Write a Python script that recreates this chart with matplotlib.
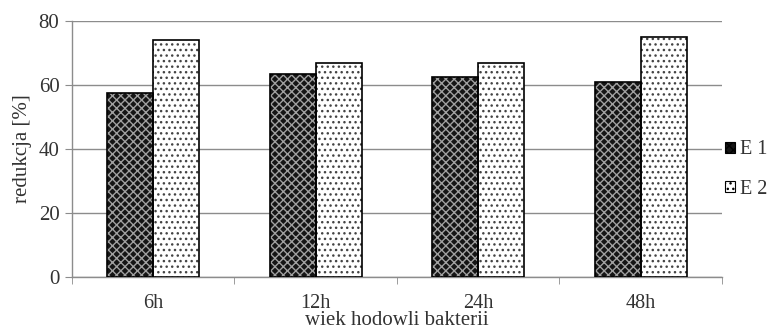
import numpy as np
import matplotlib.pyplot as plt
import matplotlib.patches as mpatches

plt.rcParams['font.family'] = ['Liberation Serif', 'DejaVu Serif']
plt.rcParams['hatch.linewidth'] = 1.0

kategorie = ['6h', '12h', '24h', '48h']
e1 = [57.5, 63.5, 62.5, 61.0]
e2 = [74.0, 67.0, 67.0, 75.0]
serie = ['E 1', 'E 2']

x = np.arange(len(kategorie))
w = 0.283
tekst = '#333333'

fig = plt.figure(figsize=(7.7, 3.31), dpi=100)
ax = fig.add_axes([0.0935, 0.163, 0.844, 0.773])

# E1 - ciemny wzor
ax.bar(x - w/2, e1, w, facecolor='#151515', edgecolor='#a0a0a0', hatch='xxxx', linewidth=0, zorder=3)
ax.bar(x - w/2, e1, w, facecolor='none', edgecolor='black', linewidth=1.2, zorder=4)
# E2 - kropki
ax.bar(x + w/2, e2, w, facecolor='white', edgecolor='#444444', hatch='...', linewidth=0, zorder=3)
ax.bar(x + w/2, e2, w, facecolor='none', edgecolor='black', linewidth=1.2, zorder=4)

ax.set_ylim(0, 80)
ax.set_xlim(-0.5, len(kategorie) - 0.5)
ax.set_yticks([0, 20, 40, 60, 80])
ax.yaxis.grid(True, color='#8c8c8c', linewidth=1.0, zorder=0)
ax.set_axisbelow(True)

ax.set_xticks(x)
ax.set_xticklabels(kategorie)
ax.set_xticks(np.arange(-0.5, len(kategorie)), minor=True)
ax.tick_params(axis='x', which='major', length=0, pad=12, labelsize=14.5, colors=tekst)
ax.tick_params(axis='x', which='minor', length=5, color='#8c8c8c', direction='out')
ax.tick_params(axis='y', length=5, color='#8c8c8c', pad=4, labelsize=15, colors=tekst)
ax.tick_params(axis='y', color='#8c8c8c')

for s in ['top', 'right']:
    ax.spines[s].set_visible(False)
for s in ['left', 'bottom']:
    ax.spines[s].set_color('#8c8c8c')
    ax.spines[s].set_linewidth(1.0)

ax.set_ylabel('redukcja [%]', fontsize=15, color=tekst, labelpad=5)
ax.set_xlabel('wiek hodowli bakterii', fontsize=15, color=tekst)
ax.xaxis.set_label_coords(0.5, -0.133)

h1 = mpatches.Patch(facecolor='#151515', edgecolor='#a0a0a0', hatch='xxxx', linewidth=0)
h2 = mpatches.Patch(facecolor='white', edgecolor='#444444', hatch='...', linewidth=0)
leg = fig.legend([h1, h2], serie, loc='center left', bbox_to_anchor=(0.942, 0.488),
                 frameon=False, fontsize=14.5, handlelength=0.5, handleheight=0.5,
                 handletextpad=0.25, labelspacing=1.0, labelcolor=tekst,
                 borderpad=0, borderaxespad=0)
for p in leg.get_patches():
    p.set_edgecolor('black')
    p.set_linewidth(0.8)

fig.savefig('out.png', dpi=100)
